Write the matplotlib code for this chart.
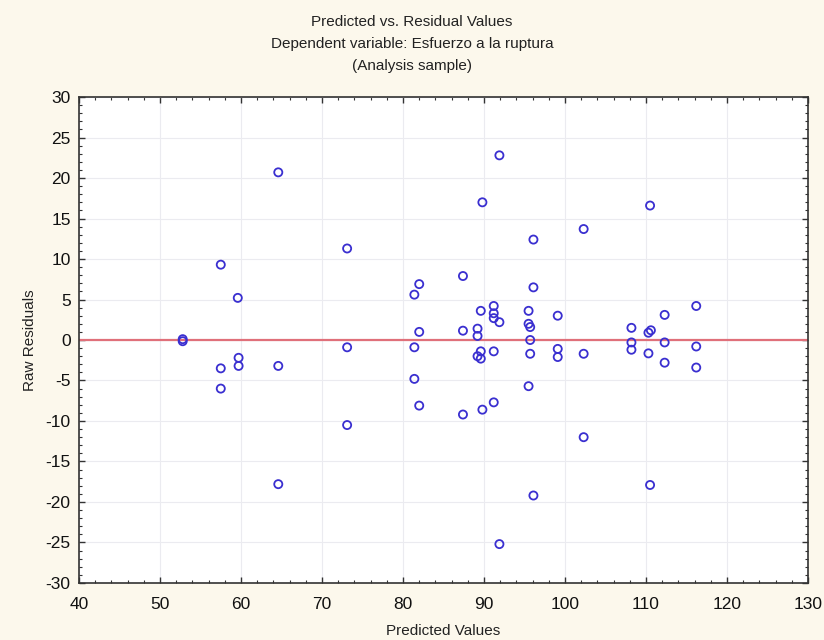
import matplotlib
matplotlib.use("Agg")
import matplotlib.pyplot as plt
import numpy as np
from matplotlib.ticker import MultipleLocator

plt.rcParams['font.family'] = ['Liberation Sans', 'DejaVu Sans']
plt.rcParams['axes.unicode_minus'] = False

# Predicted values and raw residuals (analysis sample)
predicted = [52.8, 52.8,
             57.5, 57.5, 57.5,
             59.6, 59.7, 59.7,
             64.6, 64.6, 64.6,
             73.1, 73.1, 73.1,
             81.4, 81.4, 81.4,
             82.0, 82.0, 82.0,
             87.4, 87.4, 87.4,
             89.2, 89.2, 89.2,
             89.6, 89.6, 89.6,
             89.8, 89.8,
             91.2, 91.2, 91.2, 91.2, 91.2,
             91.9, 91.9, 91.9,
             95.5, 95.5, 95.5,
             95.7, 95.7, 95.7,
             96.1, 96.1, 96.1,
             99.1, 99.1, 99.1,
             102.3, 102.3, 102.3,
             108.2, 108.2, 108.2,
             110.3, 110.3,
             110.6, 110.5, 110.5,
             112.3, 112.3, 112.3,
             116.2, 116.2, 116.2]
residuals = [0.1, -0.15,
             9.3, -3.5, -6.0,
             5.2, -2.2, -3.2,
             20.7, -3.2, -17.8,
             11.3, -0.9, -10.5,
             5.6, -0.9, -4.8,
             6.9, 1.0, -8.1,
             7.9, 1.15, -9.2,
             1.4, 0.5, -2.0,
             3.6, -1.4, -2.3,
             17.0, -8.6,
             4.2, 3.3, 2.7, -1.4, -7.7,
             22.8, 2.2, -25.2,
             3.6, 2.0, -5.7,
             1.6, 0.0, -1.7,
             12.4, 6.5, -19.2,
             3.0, -1.1, -2.1,
             13.7, -1.7, -12.0,
             1.5, -0.3, -1.2,
             0.9, -1.65,
             1.2, 16.6, -17.9,
             3.1, -0.3, -2.8,
             4.2, -0.8, -3.4]

x_limits = (40, 130)
y_limits = (-30, 30)

fig = plt.figure(figsize=(8.24, 6.4), dpi=100, facecolor='#fcf8ec')
ax = fig.add_axes([0.0959, 0.0891, 0.8847, 0.7593])
ax.set_facecolor('white')

ax.grid(True, color='#ebebf0', linewidth=0.8, linestyle='-')
ax.set_axisbelow(True)

ax.axhline(0, color='#e0707a', linewidth=1.6, zorder=2)
ax.scatter(predicted, residuals, s=34, facecolors='none',
           edgecolors='#3a2fd0', linewidths=1.3, zorder=3)

ax.set_xlim(*x_limits)
ax.set_ylim(*y_limits)
ax.xaxis.set_major_locator(MultipleLocator(10))
ax.xaxis.set_minor_locator(MultipleLocator(2))
ax.yaxis.set_major_locator(MultipleLocator(5))
ax.yaxis.set_minor_locator(MultipleLocator(1))
ax.tick_params(which='both', direction='in', top=True, right=True,
               color='#333333', labelsize=12.5, labelcolor='#111111')
ax.tick_params(which='major', length=4, width=1)
ax.tick_params(which='minor', length=2.5, width=0.8)
ax.tick_params(axis='x', which='major', pad=10)
ax.tick_params(axis='y', which='major', pad=6)
for spine in ax.spines.values():
    spine.set_color('#333333')
    spine.set_linewidth(1.2)

ax.set_xlabel('Predicted Values', fontsize=11, color='#222222', labelpad=9)
ax.set_ylabel('Raw Residuals', fontsize=11, color='#222222', labelpad=6)

fig.text(0.5, 0.966, 'Predicted vs. Residual Values', ha='center', va='center',
         fontsize=11, color='#222222')
fig.text(0.5, 0.932, 'Dependent variable: Esfuerzo a la ruptura', ha='center',
         va='center', fontsize=11, color='#222222')
fig.text(0.5, 0.897, '(Analysis sample)', ha='center', va='center',
         fontsize=11, color='#222222')

fig.savefig('out.png', dpi=100, facecolor=fig.get_facecolor())
